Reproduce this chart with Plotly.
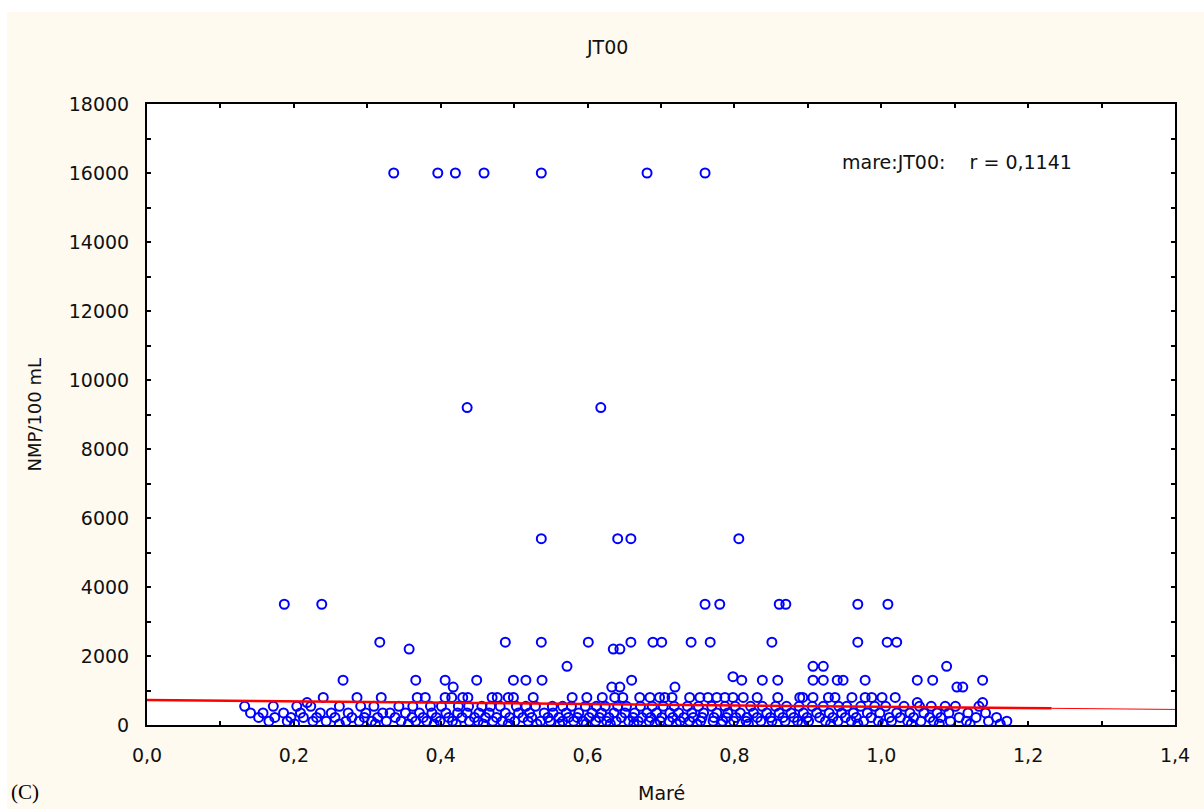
import plotly.graph_objects as go

# NMP/100 mL against tide height (Maré) for station JT00
# Each list holds the tide heights observed at one NMP level.
x_16000 = [0.336, 0.396, 0.420, 0.459, 0.537, 0.681, 0.760]
x_9200 = [0.436, 0.618]
x_5400 = [0.537, 0.641, 0.659, 0.806]
x_3500 = [0.187, 0.238, 0.760, 0.780, 0.861, 0.870, 0.968, 1.009]
x_2400 = [0.317, 0.488, 0.537, 0.601, 0.659, 0.689, 0.701, 0.741, 0.767,
          0.851, 0.968, 1.008, 1.021]
x_2200 = [0.357, 0.635, 0.644]
x_1700 = [0.572, 0.907, 0.921, 1.089]
x_1400 = [0.798]
x_1300 = [0.267, 0.366, 0.406, 0.449, 0.499, 0.516, 0.538, 0.660, 0.810,
          0.838, 0.859, 0.907, 0.921, 0.940, 0.948, 0.978, 1.049, 1.070, 1.138]
x_1100 = [0.417, 0.633, 0.644, 0.719, 1.103, 1.111]
x_800 = [0.240, 0.286, 0.319, 0.368, 0.379, 0.406, 0.415, 0.430, 0.437,
         0.470, 0.477, 0.492, 0.499, 0.526, 0.579, 0.599, 0.620, 0.637,
         0.648, 0.671, 0.685, 0.698, 0.705, 0.715, 0.739, 0.753, 0.764,
         0.776, 0.787, 0.798, 0.812, 0.831, 0.859, 0.889, 0.893, 0.907,
         0.928, 0.937, 0.960, 0.978, 0.987, 1.001, 1.019]
x_650 = [0.218, 1.049, 1.138]
x_540 = [0.133, 0.172, 0.204, 0.223, 0.262, 0.291, 0.309, 0.343, 0.362,
         0.386, 0.401, 0.424, 0.438, 0.456, 0.468, 0.481, 0.503, 0.516,
         0.529, 0.552, 0.566, 0.578, 0.597, 0.612, 0.624, 0.641, 0.653,
         0.672, 0.688, 0.703, 0.718, 0.736, 0.751, 0.769, 0.787, 0.801,
         0.822, 0.838, 0.856, 0.871, 0.888, 0.906, 0.921, 0.942, 0.953,
         0.972, 0.991, 1.006, 1.031, 1.052, 1.068, 1.087, 1.101, 1.133]
x_350 = [0.141, 0.158, 0.186, 0.209, 0.236, 0.251, 0.274, 0.298, 0.321,
         0.331, 0.352, 0.371, 0.388, 0.407, 0.423, 0.436, 0.452, 0.466,
         0.488, 0.506, 0.521, 0.541, 0.553, 0.571, 0.588, 0.606, 0.619,
         0.636, 0.651, 0.664, 0.681, 0.694, 0.712, 0.724, 0.742, 0.758,
         0.776, 0.791, 0.808, 0.826, 0.844, 0.861, 0.877, 0.894, 0.912,
         0.929, 0.946, 0.962, 0.981, 0.998, 1.021, 1.039, 1.058, 1.076,
         1.092, 1.118, 1.142]
x_220 = [0.152, 0.174, 0.196, 0.213, 0.231, 0.256, 0.279, 0.296, 0.314,
         0.338, 0.361, 0.376, 0.394, 0.411, 0.429, 0.446, 0.461, 0.476,
         0.494, 0.512, 0.524, 0.546, 0.561, 0.574, 0.586, 0.602, 0.616,
         0.629, 0.646, 0.662, 0.674, 0.686, 0.701, 0.716, 0.731, 0.744,
         0.756, 0.772, 0.789, 0.802, 0.817, 0.831, 0.849, 0.866, 0.881,
         0.899, 0.916, 0.934, 0.951, 0.966, 0.986, 1.011, 1.026, 1.044,
         1.066, 1.081, 1.106, 1.129, 1.157]
x_110 = [0.166, 0.191, 0.226, 0.244, 0.271, 0.289, 0.306, 0.326, 0.346,
         0.366, 0.381, 0.399, 0.416, 0.439, 0.451, 0.471, 0.484, 0.501,
         0.519, 0.536, 0.549, 0.566, 0.581, 0.594, 0.611, 0.626, 0.639,
         0.656, 0.669, 0.684, 0.699, 0.711, 0.726, 0.739, 0.754, 0.771,
         0.784, 0.799, 0.816, 0.836, 0.851, 0.869, 0.886, 0.901, 0.924,
         0.941, 0.959, 0.976, 0.996, 1.014, 1.036, 1.054, 1.071, 1.094,
         1.116, 1.146, 1.171]
x_30 = [0.201, 0.262, 0.311, 0.356, 0.391, 0.421, 0.458, 0.492, 0.531,
        0.562, 0.598, 0.631, 0.663, 0.692, 0.721, 0.749, 0.782, 0.819,
        0.858, 0.892, 0.931, 0.968, 1.002, 1.041, 1.079, 1.121, 1.162]

levels = [
    (16000, x_16000), (9200, x_9200), (5400, x_5400), (3500, x_3500),
    (2400, x_2400), (2200, x_2200), (1700, x_1700), (1400, x_1400),
    (1300, x_1300), (1100, x_1100), (800, x_800), (650, x_650),
    (540, x_540), (350, x_350), (220, x_220), (110, x_110), (30, x_30),
]

# Linear fit shown in red (intercept, slope) and the extent of the fitted segment
fit_intercept = 725
fit_slope = -196
fit_end = 1.232
axis_end = 1.4

x_tick_vals = [0.0, 0.2, 0.4, 0.6, 0.8, 1.0, 1.2, 1.4]
y_tick_vals = [0, 2000, 4000, 6000, 8000, 10000, 12000, 14000, 16000, 18000]

xs, ys = [], []
for yv, xlist in levels:
    xs.extend(xlist)
    ys.extend([yv] * len(xlist))

CREAM = "#FFFAEF"
FONT = "DejaVu Sans, Verdana, sans-serif"
TXT = "#111111"

fig = go.Figure()
fig.add_trace(go.Scatter(
    x=xs, y=ys, mode="markers",
    marker=dict(symbol="circle-open", size=9, color="#0000FF",
                line=dict(width=2, color="#0000FF")),
    showlegend=False, hoverinfo="x+y",
))
fig.add_trace(go.Scatter(
    x=[0, fit_end], y=[fit_intercept, fit_intercept + fit_slope * fit_end],
    mode="lines", line=dict(color="#FF0000", width=2.5), showlegend=False,
))
fig.add_trace(go.Scatter(
    x=[fit_end, axis_end],
    y=[fit_intercept + fit_slope * fit_end, fit_intercept + fit_slope * axis_end],
    mode="lines", line=dict(color="#FF0000", width=1), showlegend=False,
))

axis_common = dict(
    showline=True, linecolor="black", linewidth=2, mirror="allticks",
    ticks="inside", ticklen=4, tickwidth=2, tickcolor="black",
    showgrid=False, zeroline=False,
    tickfont=dict(family=FONT, size=19, color=TXT),
    ticklabelstandoff=12,
)

fig.update_xaxes(
    range=[0, axis_end], tickvals=x_tick_vals, tickformat=".1f",
    minor=dict(dtick=0.1, ticks="inside", ticklen=4, tickwidth=2, tickcolor="black"),
    **axis_common,
)
fig.update_yaxes(
    range=[0, 18000], tickvals=y_tick_vals, tickformat="d",
    minor=dict(dtick=1000, ticks="inside", ticklen=4, tickwidth=2, tickcolor="black"),
    **axis_common,
)

L, R, T, B = 147, 29, 104, 84
W, H = 1204, 809
pw, ph = W - L - R, H - T - B


def px_x(px):
    return (px - L) / pw


def px_y(py):
    return (H - B - py) / ph


annotations = [
    dict(text="JT00", x=px_x(607), y=px_y(47), font=dict(family=FONT, size=19, color=TXT)),
    dict(text="Maré", x=px_x(661), y=px_y(793), font=dict(family=FONT, size=19, color=TXT)),
    dict(text="NMP/100 mL", x=px_x(34), y=0.5, textangle=-90,
         font=dict(family=FONT, size=18, color=TXT)),
    dict(text="(C)", x=px_x(9), y=px_y(792), xanchor="left",
         font=dict(family="Liberation Serif, Times New Roman, serif", size=21, color="black")),
    dict(text="mare:JT00:    r = 0,1141", x=px_x(840), y=px_y(162), xanchor="left",
         font=dict(family=FONT, size=19, color=TXT)),
]
for a in annotations:
    a.setdefault("xanchor", "center")
    a.update(xref="paper", yref="paper", yanchor="middle", showarrow=False)

# White strips along the top and left edges, outside the cream frame
shapes = [
    dict(type="rect", xref="paper", yref="paper", x0=px_x(0), x1=px_x(W),
         y0=px_y(12), y1=px_y(0), fillcolor="white", line=dict(width=0), layer="below"),
    dict(type="rect", xref="paper", yref="paper", x0=px_x(0), x1=px_x(7),
         y0=px_y(H), y1=px_y(0), fillcolor="white", line=dict(width=0), layer="below"),
]

fig.update_layout(
    width=W, height=H,
    margin=dict(l=L, r=R, t=T, b=B, pad=0, autoexpand=False),
    paper_bgcolor=CREAM, plot_bgcolor="white",
    separators=",.",
    annotations=annotations, shapes=shapes,
    font=dict(family=FONT),
)

fig.write_html("out.html")
